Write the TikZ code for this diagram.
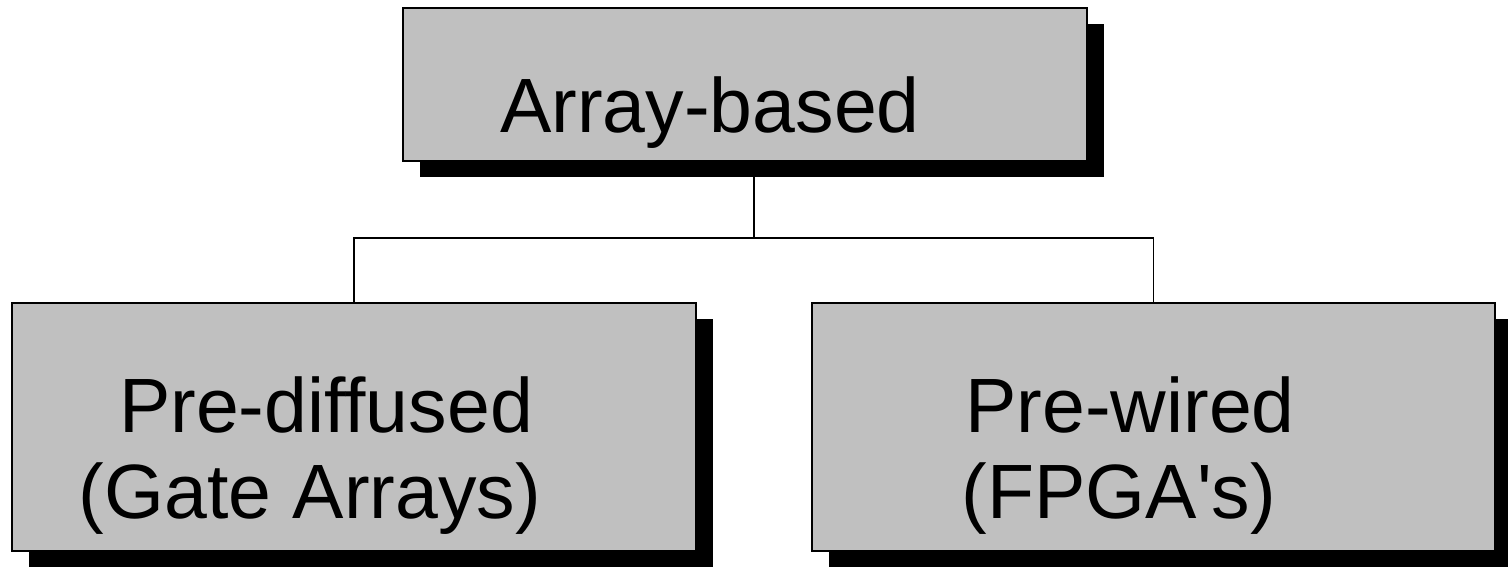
\documentclass[tikz,border=0pt]{standalone}
\usepackage{fontspec}
\setmainfont{Liberation Sans}[Ligatures=TeXOff]
\usetikzlibrary{shadows}
\definecolor{boxgray}{HTML}{C0C0C0}
\tikzset{
  box/.style={draw=black, line width=1.8pt, fill=boxgray, rectangle, inner sep=0pt,
    drop shadow={shadow xshift=17pt, shadow yshift=-16pt, fill=black, opacity=1}},
  lbl/.style={font=\fontsize{77}{86}\selectfont, anchor=base, inner sep=0pt, text=black},
  conn/.style={draw=black, line width=1.9pt}
}
\begin{document}
\begin{tikzpicture}[x=1pt, y=-1pt]
\useasboundingbox (0,0) rectangle (1508,566);
\node[box, minimum width=684pt, minimum height=153pt] (top) at (745,84.5) {};
\node[box, minimum width=684pt, minimum height=248pt] (left) at (354,427) {};
\node[box, minimum width=683pt, minimum height=248pt] (right) at (1153.5,427) {};
\node[lbl] (ttop) at (710,132) {Array-based};
\node[lbl] (tl1) at (326,432) {Pre-diffused};
\node[lbl] (tl2) at (310,518) {(Gate Arrays)};
\node[lbl] (tr1) at (1130,432) {Pre-wired};
\node[lbl] (tr2) at (1119,518) {(FPGA's)};
\coordinate (tstem) at ([xshift=9pt]top.south);
\coordinate (junc) at (754,238);
\draw[conn] (tstem) -- (junc);
\draw[conn] (left.north) |- (junc) -| (right.north);
\end{tikzpicture}
\end{document}
